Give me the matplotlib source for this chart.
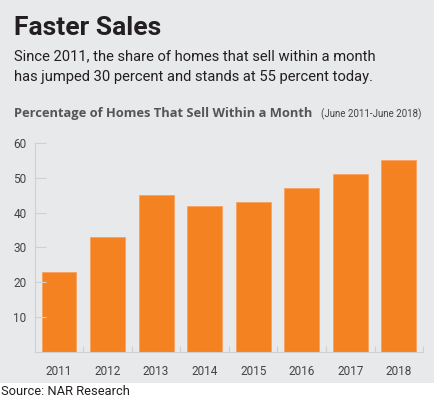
import matplotlib
matplotlib.use("Agg")
import matplotlib.pyplot as plt
from matplotlib.patches import Rectangle

# data
years = ["2011", "2012", "2013", "2014", "2015", "2016", "2017", "2018"]
share = [23, 33, 45, 42, 43, 47, 51, 55]
y_ticks = [10, 20, 30, 40, 50, 60]

title = "Faster Sales"
subtitle = ("Since 2011, the share of homes that sell within a month\n"
            "has jumped 30 percent and stands at 55 percent today.")
chart_title = "Percentage of Homes That Sell Within a Month"
chart_note = "(June 2011-June 2018)"
source = "Source: NAR Research"

bg = "#e8e9eb"
orange = "#f58220"
grid_col = "#cfd0d2"

plt.rcParams['font.family'] = ['Roboto', 'DejaVu Sans']

fig = plt.figure(figsize=(4.34, 3.97), dpi=100)
fig.patch.set_facecolor("white")
fig.patches.append(Rectangle((0, 14 / 397), 1, 1, transform=fig.transFigure,
                             facecolor=bg, edgecolor="none", zorder=-10))

ax = fig.add_axes([0.080, 0.1126, 0.895, 0.528])
ax.set_facecolor(bg)
x = range(len(years))
ax.bar(x, share, width=0.72, color=orange, edgecolor="#f7a466", linewidth=0.7)
ax.set_xlim(-0.5, len(years) - 0.5)
ax.set_ylim(0, 60)
ax.set_yticks(y_ticks)
ax.set_xticks(list(x))
ax.set_xticklabels(years)
ax.tick_params(axis="y", direction="in", length=8, width=0.8, color=grid_col,
               labelsize=8.5, labelcolor="#444444", pad=6)
ax.tick_params(axis="x", length=0, labelsize=8.5, labelcolor="#444444", pad=9)
# small separators between categories
ax.set_xticks([i + 0.5 for i in range(len(years))], minor=True)
ax.tick_params(axis="x", which="minor", direction="in", length=4, width=0.8, color=grid_col)
for s in ["top", "right"]:
    ax.spines[s].set_visible(False)
for s in ["left", "bottom"]:
    ax.spines[s].set_color(grid_col)
    ax.spines[s].set_linewidth(0.8)

fig.text(14 / 434, 1 - 35 / 397, title, fontsize=19, fontweight="bold", color="#231f20")
fig.text(14 / 434, 1 - 81 / 397, subtitle, fontsize=10.6, color="#231f20",
         linespacing=1.65, va="baseline")
fig.text(14 / 434, 1 - 117 / 397, chart_title, fontsize=9.3, fontweight="bold",
         color="#555555", family=["Open Sans", "DejaVu Sans"])
fig.text(321 / 434, 1 - 117 / 397, chart_note, fontsize=7, color="#444444")
fig.text(1 / 434, 1 - 395 / 397, source, fontsize=9.3, color="#231f20")

fig.savefig("out.png", dpi=100, facecolor=fig.get_facecolor())
